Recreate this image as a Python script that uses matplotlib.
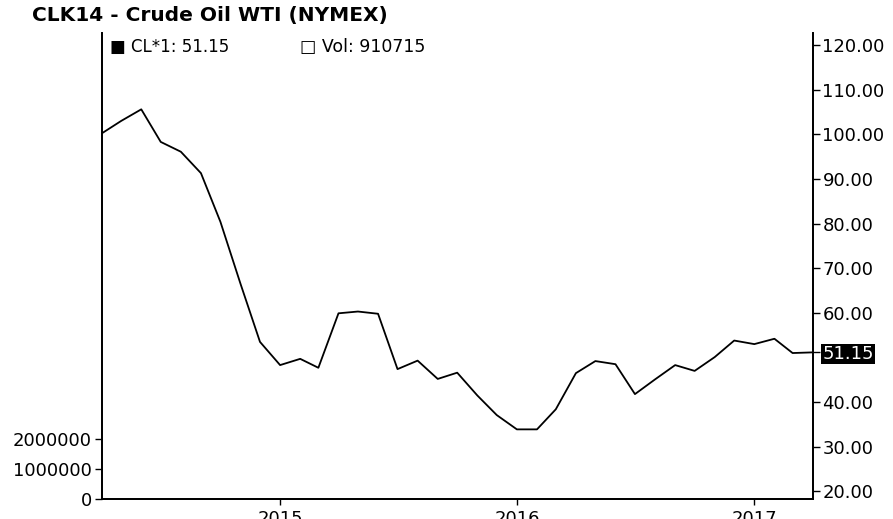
import matplotlib
matplotlib.use("Agg")
import matplotlib.pyplot as plt
import matplotlib.dates as mdates
import pandas as pd

plt.rcParams['font.family'] = ['DejaVu Sans']

# ---- data ----
dates = pd.date_range("2014-04-01", "2017-04-01", freq="MS")
prices = [100.2, 103.0, 105.6, 98.3, 96.1, 91.3, 80.4, 66.5, 53.5,
          48.3, 49.7, 47.7, 59.9, 60.3, 59.8, 47.4, 49.3, 45.2, 46.6, 41.5, 37.1,
          33.9, 33.9, 38.4, 46.5, 49.2, 48.5, 41.8, 45.1, 48.3, 47.0, 50.1, 53.8,
          53.0, 54.2, 51.0, 51.15]
last_price = 51.15
last_volume = 910715
price_ticks = [20, 30, 40, 51.15, 60, 70, 80, 90, 100, 110, 120]
volume_ticks = [0, 1000000, 2000000]
year_ticks = ["2015-01-01", "2016-01-01", "2017-01-01"]
title = "CLK14 - Crude Oil WTI (NYMEX)"

W, H = 893, 519
fig = plt.figure(figsize=(W / 100, H / 100), dpi=100)
left, right, bottom, top = 101.7, 812.7, 499, 33
axv = fig.add_axes([left / W, 1 - bottom / H, (right - left) / W, (bottom - top) / H])
ax = axv.twinx()

# price line
ax.plot(dates, prices, color="black", lw=1.3)
ax.set_xlim(dates[0], dates[-1])
ax.set_ylim(18.3, 122.7)
ax.set_yticks(price_ticks)
ax.set_yticklabels([f"{v:.2f}" for v in price_ticks])
for lbl, v in zip(ax.get_yticklabels(), price_ticks):
    if v == last_price:
        lbl.set_color("white")
        lbl.set_bbox(dict(facecolor="black", edgecolor="none", pad=0.6))

# volume axis (left)
axv.set_ylim(0, 15.6e6)
axv.set_yticks(volume_ticks)
axv.set_yticklabels([str(v) for v in volume_ticks])

for a in (ax, axv):
    a.spines["top"].set_visible(False)
    for s in ("left", "right", "bottom"):
        a.spines[s].set_linewidth(1.3)
    a.tick_params(axis="y", direction="out", length=5, width=1.0, labelsize=13, pad=2)
    a.set_facecolor("none")

axv.set_xticks(pd.to_datetime(year_ticks))
axv.xaxis.set_major_formatter(mdates.DateFormatter("%Y"))
axv.tick_params(axis="x", direction="out", length=4, width=1.0, labelsize=13, pad=4)

# title and legend row
fig.text(32 / W, 1 - 15 / H, title, fontsize=14.5, fontweight="bold", va="center", ha="left")
fig.text(110 / W, 1 - 47 / H, f"\u25a0 CL*1: {last_price:.2f}", fontsize=12, va="center", ha="left")
fig.text(300 / W, 1 - 47 / H, f"\u25a1 Vol: {last_volume}", fontsize=12.5, va="center", ha="left")

fig.savefig("out.png", dpi=100)
